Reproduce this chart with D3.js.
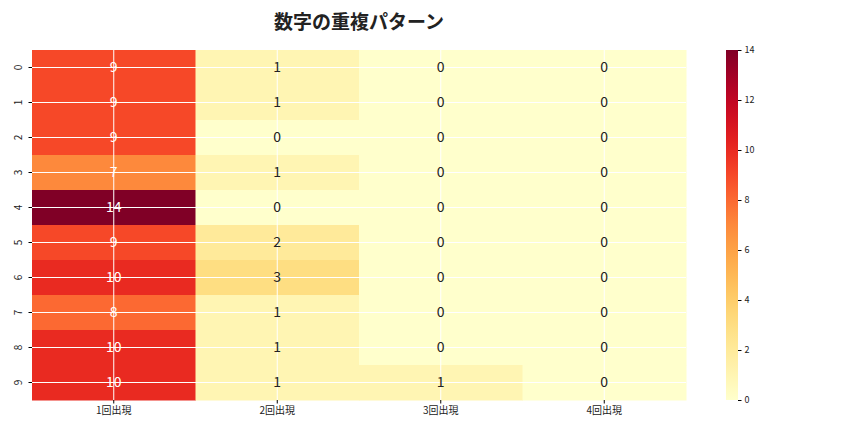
<!DOCTYPE html><html><head><meta charset="utf-8"><script src="https://cdn.jsdelivr.net/npm/d3@7"></script>
<style>body{margin:0;background:#fff}text{font-family:"Noto Sans CJK JP","DejaVu Sans",sans-serif}</style></head><body>
<svg id="c" width="864" height="432"></svg>
<script>
const rows=["0","1","2","3","4","5","6","7","8","9"];
const cols=["1回出現","2回出現","3回出現","4回出現"];
const values=[[9,1,0,0],[9,1,0,0],[9,0,0,0],[7,1,0,0],[14,0,0,0],[9,2,0,0],[10,3,0,0],[8,1,0,0],[10,1,0,0],[10,1,1,0]];
const cbTicks=[0,2,4,6,8,10,12,14];
const svg=d3.select("#c");
const L=32,R=686,T=50,B=400;
const x=d3.scaleBand().domain(cols).range([L,R]);
const y=d3.scaleBand().domain(rows).range([T,B]);
const color=d3.scaleSequential(d3.interpolateYlOrRd).domain([0,14]);
const g=svg.append("g");
values.forEach((r,i)=>r.forEach((v,j)=>{
 g.append("rect").attr("x",x(cols[j])).attr("y",y(rows[i])).attr("width",x.bandwidth()+0.5).attr("height",y.bandwidth()+0.5).attr("fill",color(v));
}));
cols.forEach(c=>g.append("line").attr("x1",x(c)+x.bandwidth()/2).attr("x2",x(c)+x.bandwidth()/2).attr("y1",T).attr("y2",B).attr("stroke","#fff").attr("stroke-width",1));
rows.forEach(r=>g.append("line").attr("x1",L).attr("x2",R).attr("y1",y(r)+y.bandwidth()/2).attr("y2",y(r)+y.bandwidth()/2).attr("stroke","#fff").attr("stroke-width",1));
values.forEach((r,i)=>r.forEach((v,j)=>{
 g.append("text").attr("x",x(cols[j])+x.bandwidth()/2).attr("y",y(rows[i])+y.bandwidth()/2).attr("dy","0.35em").attr("text-anchor","middle").attr("font-size",14).attr("fill",v>=7?"#fff":"#222").text(v);
}));
const xa=svg.append("g").attr("transform",`translate(0,${B})`).call(d3.axisBottom(x).tickSize(3.5));
xa.selectAll("text").attr("font-size",10).attr("fill","#222");
xa.select(".domain").remove();
const ya=svg.append("g").attr("transform",`translate(${L},0)`).call(d3.axisLeft(y).tickSize(3.5));
ya.select(".domain").remove();
ya.selectAll("text").attr("font-size",10).attr("fill","#222").attr("text-anchor","middle").attr("dy",0).attr("x",0).attr("y",0).attr("transform","translate(-10,0) rotate(-90)");
const cx=726,cw=12;
const cy=d3.scaleLinear().domain([0,14]).range([B,T]);
const defs=svg.append("defs");
const gr=defs.append("linearGradient").attr("id","gr").attr("x1",0).attr("y1",1).attr("x2",0).attr("y2",0);
d3.range(0,1.001,0.05).forEach(t=>gr.append("stop").attr("offset",t).attr("stop-color",color(t*14)));
svg.append("rect").attr("x",cx).attr("y",T).attr("width",cw).attr("height",B-T).attr("fill","url(#gr)");
const ca=svg.append("g").attr("transform",`translate(${cx+cw},0)`).call(d3.axisRight(cy).tickValues(cbTicks).tickSize(3.5));
ca.select(".domain").remove();
ca.selectAll("text").attr("font-size",9).attr("fill","#222");
svg.append("text").attr("x",(L+R)/2).attr("y",29).attr("text-anchor","middle").attr("font-size",19).attr("font-weight","bold").attr("fill","#222").text("数字の重複パターン");
</script></body></html>
